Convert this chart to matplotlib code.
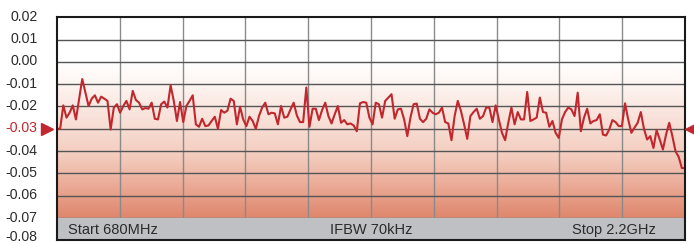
import matplotlib.pyplot as plt
import numpy as np
import matplotlib.transforms as mtransforms
from matplotlib.colors import LinearSegmentedColormap

# trace (dB)
vals = [
    -0.0300, -0.0300, -0.0195, -0.0250, -0.0228, -0.0195, -0.0258, -0.0168, -0.0077, -0.0138,
    -0.0198, -0.0165, -0.0150, -0.0183, -0.0156, -0.0165, -0.0175, -0.0303, -0.0205, -0.0190,
    -0.0228, -0.0198, -0.0175, -0.0213, -0.0130, -0.0171, -0.0183, -0.0213, -0.0207, -0.0210,
    -0.0183, -0.0255, -0.0258, -0.0190, -0.0178, -0.0205, -0.0105, -0.0175, -0.0265, -0.0180,
    -0.0270, -0.0198, -0.0175, -0.0150, -0.0280, -0.0291, -0.0255, -0.0288, -0.0285, -0.0265,
    -0.0246, -0.0300, -0.0216, -0.0228, -0.0219, -0.0165, -0.0175, -0.0280, -0.0201, -0.0258,
    -0.0288, -0.0246, -0.0265, -0.0300, -0.0243, -0.0205, -0.0183, -0.0235, -0.0228, -0.0231,
    -0.0280, -0.0198, -0.0250, -0.0246, -0.0213, -0.0183, -0.0240, -0.0270, -0.0270, -0.0115,
    -0.0291, -0.0210, -0.0210, -0.0261, -0.0216, -0.0183, -0.0243, -0.0276, -0.0235, -0.0198,
    -0.0273, -0.0261, -0.0280, -0.0276, -0.0285, -0.0311, -0.0186, -0.0180, -0.0183, -0.0250,
    -0.0280, -0.0183, -0.0190, -0.0250, -0.0175, -0.0160, -0.0145, -0.0255, -0.0213, -0.0210,
    -0.0258, -0.0333, -0.0250, -0.0190, -0.0187, -0.0255, -0.0270, -0.0255, -0.0213, -0.0228,
    -0.0235, -0.0228, -0.0205, -0.0270, -0.0276, -0.0351, -0.0243, -0.0175, -0.0220, -0.0280,
    -0.0345, -0.0243, -0.0225, -0.0210, -0.0255, -0.0243, -0.0205, -0.0205, -0.0270, -0.0195,
    -0.0258, -0.0318, -0.0351, -0.0273, -0.0205, -0.0280, -0.0225, -0.0258, -0.0258, -0.0135,
    -0.0265, -0.0258, -0.0250, -0.0160, -0.0225, -0.0228, -0.0291, -0.0265, -0.0318, -0.0341,
    -0.0258, -0.0225, -0.0205, -0.0213, -0.0243, -0.0138, -0.0311, -0.0250, -0.0210, -0.0276,
    -0.0265, -0.0261, -0.0235, -0.0326, -0.0330, -0.0303, -0.0261, -0.0270, -0.0288, -0.0288,
    -0.0186, -0.0258, -0.0318, -0.0295, -0.0273, -0.0225, -0.0300, -0.0348, -0.0333, -0.0386,
    -0.0306, -0.0348, -0.0393, -0.0326, -0.0273, -0.0333, -0.0401, -0.0426, -0.0476, -0.0476,
]
f_start, f_stop = 680, 2200  # MHz
yticks = [0.02, 0.01, 0.00, -0.01, -0.02, -0.03, -0.04, -0.05, -0.06, -0.07, -0.08]
ref_level = -0.03
band_labels = ['Start 680MHz', 'IFBW 70kHz', 'Stop 2.2GHz']

freq = np.linspace(f_start, f_stop, len(vals))
red = '#c1272d'

fig = plt.figure(figsize=(6.94, 2.44), dpi=100)
ax = fig.add_axes([57 / 694, 3.6 / 244, 628 / 694, 223.2 / 244])
ax.set_xlim(f_start, f_stop)
ax.set_ylim(-0.08, 0.02)

# pink gradient background
cmap = LinearSegmentedColormap.from_list('bg', [
    (0.0, '#de866c'), (0.12, '#e8a18b'), (0.3, '#f3cbbd'),
    (0.5, '#f9e2da'), (0.62, '#fcefea'), (0.7, '#fef8f6'), (0.78, '#ffffff'), (1.0, '#ffffff')])
grad = np.linspace(0, 1, 256).reshape(-1, 1)
ax.imshow(grad, aspect='auto', cmap=cmap, origin='lower',
          extent=(f_start, f_stop, -0.07, 0.02), zorder=0)

# grid
xdiv = np.linspace(f_start, f_stop, 11)
for xv in xdiv[1:-1]:
    ax.plot([xv, xv], [-0.07, 0.02], color='#8a8a8a', lw=1.0, zorder=1)
for yv in yticks[1:-1]:
    ax.axhline(yv, color='#555555', lw=1.0, zorder=1)

# bottom status band
ax.axhspan(-0.08, -0.07, color='#bfc0c4', zorder=2)
ax.text(f_start + 0.017 * (f_stop - f_start), -0.0752, band_labels[0], fontsize=10.5,
        color='#2b2b2b', va='center', ha='left', family='Liberation Sans', zorder=3)
ax.text((f_start + f_stop) / 2, -0.0752, band_labels[1], fontsize=10.5,
        color='#2b2b2b', va='center', ha='center', family='Liberation Sans', zorder=3)
ax.text(f_start + 0.953 * (f_stop - f_start), -0.0752, band_labels[2], fontsize=10.5,
        color='#2b2b2b', va='center', ha='right', family='Liberation Sans', zorder=3)

ax.plot(freq, vals, color=red, lw=1.5, zorder=4)

ax.set_xticks([])
ax.set_yticks(yticks)
ax.set_yticklabels([f'{t:.2f}' for t in yticks], fontsize=10.2, family='Liberation Sans')
ax.tick_params(axis='y', length=0, pad=14, colors='#2b2b2b')
for lab, t in zip(ax.get_yticklabels(), yticks):
    dy = 4.5 if t == yticks[-1] else 2.0
    lab.set_transform(lab.get_transform()
                      + mtransforms.ScaledTranslation(0, dy / 100, fig.dpi_scale_trans))
    if abs(t - ref_level) < 1e-9:
        lab.set_color(red)
for s in ax.spines.values():
    s.set_color('#1a1a1a')
    s.set_linewidth(1.5)
    s.set_zorder(5)

# reference level markers
ax.plot([-0.016], [ref_level], marker='>', color=red, ms=8, transform=ax.get_yaxis_transform(),
        clip_on=False, zorder=6)
ax.plot([1.009], [ref_level], marker='<', color=red, ms=8, transform=ax.get_yaxis_transform(),
        clip_on=False, zorder=6)

fig.savefig('out.png', dpi=100)
